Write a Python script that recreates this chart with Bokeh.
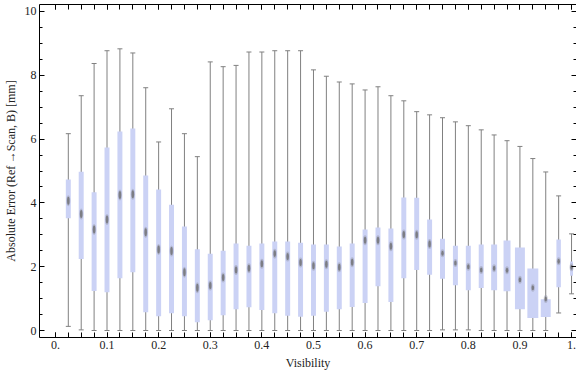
from bokeh.plotting import figure
from bokeh.models import ColumnDataSource, Range1d, LinearAxis, FixedTicker, CustomJSTickFormatter
from bokeh.embed import file_html
from bokeh.resources import INLINE

# ---------------- data ----------------
visibility = [0.025, 0.05, 0.075, 0.1, 0.125, 0.15, 0.175, 0.2, 0.225, 0.25,
              0.275, 0.3, 0.325, 0.35, 0.375, 0.4, 0.425, 0.45, 0.475, 0.5,
              0.525, 0.55, 0.575, 0.6, 0.625, 0.65, 0.675, 0.7, 0.725, 0.75,
              0.775, 0.8, 0.825, 0.85, 0.875, 0.9, 0.925, 0.95, 0.975, 1.0]

whisker_max = [6.17, 7.36, 8.37, 8.77, 8.83, 8.70, 7.61, 5.91, 6.95, 6.17,
               5.45, 8.42, 8.27, 8.31, 8.73, 8.73, 8.77, 8.77, 8.77, 8.17,
               7.97, 7.79, 7.73, 7.54, 7.64, 7.36, 7.20, 6.86, 6.76, 6.67,
               6.54, 6.42, 6.29, 6.13, 5.95, 5.77, 5.39, 4.97, 4.22, 3.03]

q3 = [4.73, 4.98, 4.33, 5.74, 6.24, 6.33, 4.86, 4.42, 3.94, 3.26,
      2.55, 2.41, 2.50, 2.73, 2.66, 2.73, 2.79, 2.79, 2.75, 2.70,
      2.70, 2.63, 2.73, 3.17, 3.23, 3.20, 4.17, 4.16, 3.48, 2.88,
      2.66, 2.66, 2.70, 2.70, 2.82, 2.60, 1.94, 0.98, 2.85, 2.16]

median = [4.07, 3.65, 3.17, 3.48, 4.25, 4.27, 3.08, 2.54, 2.49, 1.83,
          1.34, 1.41, 1.66, 1.90, 1.95, 2.09, 2.41, 2.32, 2.13, 2.03,
          2.08, 1.98, 2.14, 2.83, 2.83, 2.64, 3.01, 3.00, 2.71, 2.42,
          2.12, 2.00, 1.90, 1.95, 1.89, 1.59, 1.34, 0.99, 2.17, 1.98]

q1 = [3.52, 2.24, 1.24, 1.20, 1.64, 1.83, 0.57, 0.45, 0.54, 0.45,
      0.26, 0.32, 0.48, 0.67, 0.73, 0.64, 0.54, 0.46, 0.43, 0.46,
      0.59, 0.67, 0.74, 0.86, 1.39, 0.89, 1.64, 1.90, 1.75, 1.62,
      1.42, 1.26, 1.33, 1.26, 1.23, 0.67, 0.39, 0.42, 1.36, 1.72]

whisker_min = [0.13, 0.02, 0.0, 0.0, 0.0, 0.0, 0.0, 0.0, 0.0, 0.0,
               0.0, 0.0, 0.0, 0.0, 0.0, 0.0, 0.0, 0.0, 0.0, 0.0,
               0.0, 0.0, 0.0, 0.0, 0.0, 0.0, 0.0, 0.0, 0.0, 0.02,
               0.02, 0.02, 0.0, 0.0, 0.0, 0.0, 0.0, 0.0, 0.55, 1.15]

xtick_values = [0.0, 0.1, 0.2, 0.3, 0.4, 0.5, 0.6, 0.7, 0.8, 0.9, 1.0]
xtick_labels = ["0.", "0.1", "0.2", "0.3", "0.4", "0.5", "0.6", "0.7", "0.8", "0.9", "1."]
ytick_values = [0, 2, 4, 6, 8, 10]
ytick_labels = ["0", "2", "4", "6", "8", "10"]

x_label = "Visibility"
y_label = "Absolute Error (Ref\u2009\u2192Scan, B) [mm]"

# ---------------- styling ----------------
FONT = "Liberation Serif"
BOX_COLOR = "#CBD2F5"
WHISKER_COLOR = "#808080"
TEXT_COLOR = "#222222"

X_START, X_END = -0.0308, 1.0096
FRAME_W = 540.0
px_per_x = FRAME_W / (X_END - X_START)

box_px = [5] * 33 + [6, 7, 10, 11, 10, 4.5, 3]
median_h = [8] * 11 + [7] * 18 + [5] * 11

src = ColumnDataSource(dict(
    x=visibility, lo=whisker_min, q1=q1, med=median, q3=q3, hi=whisker_max,
    w=[b / px_per_x for b in box_px], mh=median_h,
    mh2=[h + 3 for h in median_h],
))

p = figure(width=576, height=377, output_backend="svg", toolbar_location=None,
           x_range=Range1d(X_START, X_END), y_range=Range1d(-0.219, 10.219),
           min_border_left=36, min_border_right=0, min_border_top=4,
           min_border_bottom=40)
p.outline_line_color = None
p.grid.visible = False
p.background_fill_color = "white"
p.border_fill_color = "white"

x_minor = [0.0] + visibility
y_minor = [i * 0.5 for i in range(21)]

def style_axis(ax, major_in, minor_in):
    ax.major_tick_in = major_in
    ax.major_tick_out = 0
    ax.minor_tick_in = minor_in
    ax.minor_tick_out = 0
    ax.major_tick_line_color = "black"
    ax.minor_tick_line_color = "black"
    ax.axis_line_color = "black"
    ax.major_label_text_font = FONT
    ax.major_label_text_font_size = "12px"
    ax.major_label_text_color = TEXT_COLOR
    ax.axis_label_text_font = FONT
    ax.axis_label_text_font_size = "12px"
    ax.axis_label_text_font_style = "normal"
    ax.axis_label_text_color = TEXT_COLOR

xa = p.xaxis[0]
xa.ticker = FixedTicker(ticks=xtick_values, minor_ticks=x_minor)
xa.major_label_overrides = {v: s for v, s in zip(xtick_values, xtick_labels)}
style_axis(xa, 5, 5)
xa.axis_label = x_label
xa.major_label_standoff = 3
xa.axis_label_standoff = 4

ya = p.yaxis[0]
ya.ticker = FixedTicker(ticks=ytick_values, minor_ticks=y_minor)
ya.major_label_overrides = {v: s for v, s in zip(ytick_values, ytick_labels)}
style_axis(ya, 5, 3)
ya.axis_label = y_label
ya.major_label_standoff = 3
ya.axis_label_standoff = 4

blank = CustomJSTickFormatter(code="return ''")

top = LinearAxis(ticker=FixedTicker(ticks=xtick_values, minor_ticks=x_minor),
                 formatter=blank)
style_axis(top, 5, 5)
top.major_label_standoff = 0
p.add_layout(top, "above")

right = LinearAxis(ticker=FixedTicker(ticks=ytick_values, minor_ticks=y_minor),
                   formatter=blank)
style_axis(right, 5, 3)
right.axis_line_color = None
right.major_label_standoff = 0
p.add_layout(right, "right")

# whiskers and caps
p.segment(x0="x", y0="lo", x1="x", y1="hi", source=src,
          line_color=WHISKER_COLOR, line_width=1)
p.scatter(x="x", y="hi", source=src, marker="dash", size=5,
          line_color=WHISKER_COLOR, line_width=1)
p.scatter(x="x", y="lo", source=src, marker="dash", size=5,
          line_color=WHISKER_COLOR, line_width=1)

# boxes
p.vbar(x="x", width="w", bottom="q1", top="q3", source=src,
       fill_color=BOX_COLOR, line_color=None)

# median markers (soft diamond-like spot)
p.ellipse(x="x", y="med", width=4, height="mh2", width_units="screen",
          height_units="screen", source=src, fill_color="#9a9cae",
          fill_alpha=0.5, line_color=None)
p.ellipse(x="x", y="med", width=2.5, height="mh", width_units="screen",
          height_units="screen", source=src, fill_color="#6a6a6a",
          fill_alpha=0.75, line_color=None)

open("out.html", "w").write(file_html(p, INLINE))
